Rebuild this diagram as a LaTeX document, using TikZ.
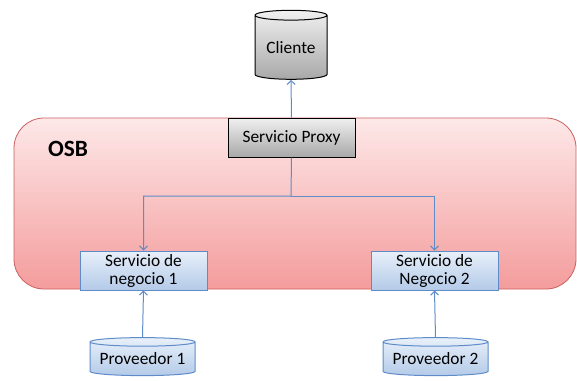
\documentclass[tikz,border=0pt]{standalone}
\usepackage{fontspec}
\setmainfont{Carlito}
\usepackage{tikz}
\usetikzlibrary{shapes.geometric,arrows.meta,positioning}

\definecolor{osbtop}{RGB}{253,232,232}
\definecolor{osbbot}{RGB}{244,156,156}
\definecolor{osbline}{RGB}{205,95,95}
\definecolor{grytop}{RGB}{240,240,240}
\definecolor{grybot}{RGB}{168,168,168}
\definecolor{blutop}{RGB}{232,240,250}
\definecolor{blubot}{RGB}{180,202,232}
\definecolor{bluline}{RGB}{95,140,200}

\begin{document}
\begin{tikzpicture}[x=0.75pt,y=-0.75pt,font=\fontsize{13pt}{13.5pt}\selectfont,
  graybox/.style={draw=black,line width=0.75pt,top color=grytop,bottom color=grybot,
    minimum width=95.25pt,minimum height=29.25pt,inner sep=0pt},
  bluebox/.style={draw=bluline,line width=0.75pt,top color=blutop,bottom color=blubot,
    minimum width=95.25pt,minimum height=29.25pt,inner sep=0pt,align=center},
  dbase/.style={cylinder,shape border rotate=90,line width=0.75pt,inner sep=0pt},
  link/.style={draw=bluline,line width=0.75pt,-{Straight Barb[length=3pt,width=6pt]}}]
\useasboundingbox (0,0) rectangle (577,380);

% bus
\draw[osbline,line width=0.6pt,top color=osbtop,bottom color=osbbot,rounded corners=22.5pt]
  (14,118) rectangle (576,289);
\node[font=\fontsize{17.5pt}{20pt}\selectfont\bfseries] (osb) at (68,149) {OSB};

% nodes
\node[dbase,draw=black,top color=grytop,bottom color=grybot,
  minimum width=54pt,minimum height=51.75pt,aspect=0.2] (cliente) at (291,47.5) {Cliente};
\node[graybox] (proxy) at (291.5,137.5) {Servicio Proxy};
\node[bluebox] (neg1) at (143.5,270.5) {Servicio de\\negocio 1};
\node[bluebox] (neg2) at (434.5,270.5) {Servicio de\\Negocio 2};
\node[dbase,draw=bluline,top color=blutop,bottom color=blubot,
  minimum width=78.75pt,minimum height=28.5pt,aspect=0.1] (prov1) at (142.5,359) {Proveedor 1};
\node[dbase,draw=bluline,top color=blutop,bottom color=blubot,
  minimum width=78.75pt,minimum height=28.5pt,aspect=0.1] (prov2) at (435.5,359) {Proveedor 2};

% links
\coordinate (split) at (291,196);
\draw[link] (proxy.north) -- (cliente.south);
\draw[link] (proxy.south) -- (split) -| (neg1.north);
\draw[link] (split) -| (neg2.north);
\draw[link] (prov1.north) -- (neg1.south);
\draw[link] (prov2.north) -- (neg2.south);
\end{tikzpicture}
\end{document}
